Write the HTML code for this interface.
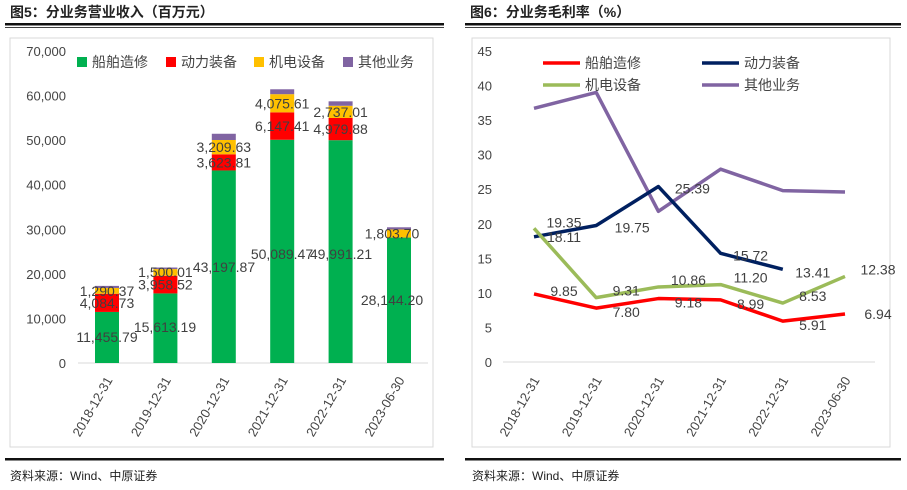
<!DOCTYPE html>
<html><head><meta charset="utf-8">
<style>
body{margin:0;background:#fff;width:907px;height:485px;overflow:hidden;font-family:"Liberation Sans","Noto Sans CJK SC",sans-serif;}
</style></head>
<body>
<svg id="svg" width="907" height="485" xmlns="http://www.w3.org/2000/svg" font-family="Liberation Sans, Noto Sans CJK SC, sans-serif">
<g>
<text x="10" y="17" font-size="14" font-weight="bold" fill="#222">图5：分业务营业收入（百万元）</text>
<rect x="5" y="23" width="439" height="2.5" fill="#111"/><rect x="5" y="27" width="439" height="0.8" fill="#111"/>
<text x="470" y="17" font-size="14" font-weight="bold" fill="#222">图6：分业务毛利率（%）</text>
<rect x="465" y="23" width="436" height="2.5" fill="#111"/><rect x="465" y="27" width="436" height="0.8" fill="#111"/>
</g>
<rect x="10" y="38" width="423" height="409" fill="#fff" stroke="#d9d9d9"/>
<rect x="472" y="38" width="418" height="409" fill="#fff" stroke="#d9d9d9"/>
<rect x="5" y="458" width="439" height="2.5" fill="#111"/>
<rect x="465" y="458" width="436" height="2.5" fill="#111"/>
<text x="10" y="480" font-size="12" fill="#222">资料来源：Wind、中原证券</text>
<text x="472" y="480" font-size="12" fill="#222">资料来源：Wind、中原证券</text>
<g id="left"></g><g id="right"></g>
</svg>
<script>
const categories=["2018-12-31","2019-12-31","2020-12-31","2021-12-31","2022-12-31","2023-06-30"];
const shipRev=[11455.79,15613.19,43197.87,50089.47,49991.21,28144.20];
const powerRev=[4084.73,3958.52,3623.81,6147.41,4979.88,0];
const mechRev=[1290.37,1500.01,3209.63,4075.61,2737.01,1803.70];
const otherRev=[470,350,1400,1100,1000,500];
const revTicks=[0,10000,20000,30000,40000,50000,60000,70000];
const shipMargin=[9.85,7.80,9.18,8.99,5.91,6.94];
const powerMargin=[18.11,19.75,25.39,15.72,13.41,null];
const mechMargin=[19.35,9.31,10.86,11.20,8.53,12.38];
const otherMargin=[36.7,39.0,21.8,27.9,24.8,24.6];
const marginTicks=[0,5,10,15,20,25,30,35,40,45];

const NS="http://www.w3.org/2000/svg";
function mk(p,tag,attrs,txt){const e=document.createElementNS(NS,tag);for(const k in attrs)e.setAttribute(k,attrs[k]);if(txt!==undefined)e.textContent=txt;p.appendChild(e);return e;}
const fmt=v=>v.toLocaleString('en-US',{minimumFractionDigits:2,maximumFractionDigits:2});

// LEFT
const L=document.getElementById('left');
const ly=v=>363-v*(312/70000);
const lx=i=>107+i*58.4;
revTicks.forEach(t=>{const e=mk(L,'text',{x:66,y:ly(t)+5,'text-anchor':'end','font-size':13,fill:'#444'},t.toLocaleString('en-US'));

});
mk(L,'line',{x1:78,x2:428,y1:363,y2:363,stroke:'#d9d9d9'});
const series=[[shipRev,'#00b050','ship'],[powerRev,'#ff0000','power'],[mechRev,'#ffc000','mech'],[otherRev,'#8064a2','other']];
categories.forEach((c,i)=>{let base=0;
series.forEach(([arr,col,nm])=>{const v=arr[i];if(!v)return;const r=mk(L,'rect',{x:lx(i)-12,y:ly(base+v),width:24,height:ly(base)-ly(base+v),fill:col});

base+=v;});
const t=mk(L,'text',{transform:`translate(${lx(i)+6},380) rotate(-60)`,'text-anchor':'end','font-size':13,fill:'#444'},c);

});
const lab=(x,y,s)=>{const e=mk(L,'text',{x:x,y:y,'text-anchor':'middle','font-size':14,fill:'#404040'},s);

};
const shipLabY=[342,332,272,259,259,305];
const shipLabX=[107,165,224,282,341,392];
categories.forEach((c,i)=>{lab(shipLabX[i],shipLabY[i],fmt(shipRev[i]));
const b=shipRev[i];
if(powerRev[i])lab(lx(i),ly(b+powerRev[i]/2)+5,fmt(powerRev[i]));
const b2=b+powerRev[i];
if(i<2)lab(lx(i),ly(b2+mechRev[i])+8,fmt(mechRev[i]));
else lab(lx(i)+(i===5?-7:0),ly(b2+mechRev[i]/2)+5,fmt(mechRev[i]));});
const lg=[['船舶造修','#00b050',77],['动力装备','#ff0000',166],['机电设备','#ffc000',254],['其他业务','#8064a2',343]];
lg.forEach(([n,c,x])=>{const g=mk(L,'g',{});


mk(g,'rect',{x:x,y:57,width:10,height:10,fill:c});mk(g,'text',{x:x+15,y:67,'font-size':14,fill:'#444'},n);});

// RIGHT
const R=document.getElementById('right');
const ry=v=>362-v*(311/45);
const rx=i=>534+i*62.2;
marginTicks.forEach(t=>{const e=mk(R,'text',{x:492,y:ry(t)+5,'text-anchor':'end','font-size':13,fill:'#444'},t);

});
mk(R,'line',{x1:503,x2:875,y1:362,y2:362,stroke:'#d9d9d9'});
categories.forEach((c,i)=>{const t=mk(R,'text',{transform:`translate(${rx(i)+6},380) rotate(-60)`,'text-anchor':'end','font-size':13,fill:'#444'},c);

});
const lines=[[otherMargin,'#8064a2','other'],[powerMargin,'#002060','power'],[mechMargin,'#9bbb59','mech'],[shipMargin,'#ff0000','ship']];
lines.forEach(([arr,col,nm])=>{let d='';arr.forEach((v,i)=>{if(v==null)return;d+=(d?'L':'M')+rx(i)+','+ry(v);});
const p=mk(R,'path',{d:d,fill:'none',stroke:col,'stroke-width':3.5,'stroke-linejoin':'round'});

});
const rlab=(x,y,s)=>{const e=mk(R,'text',{x:x,y:y,'text-anchor':'middle','font-size':14,fill:'#404040'},s);

};
[shipMargin,mechMargin,powerMargin].forEach((arr,k)=>arr.forEach((v,i)=>{if(v==null)return;
let x=rx(i)+30,y=ry(v)+5;
if(k===0&&i<5){y=ry(v)+ (i===0?2:9);} if(k===0&&i===5){x=rx(i)+33;}
if(k===1){y=ry(v)+(i===0?-1:-2);} if(k===1&&i===5)x=rx(i)+33;
if(k===2){y=ry(v)+(i===0?5:(i===4?8:7));} if(k===2&&i===2){x=rx(i)+34;y=ry(v)+7;}
if(k===2&&i===1){x=rx(i)+36;y=ry(v)+7;}
rlab(x,y,v.toFixed(2));}));
const rl=[['船舶造修','#ff0000',543,63],['动力装备','#002060',702,63],['机电设备','#9bbb59',543,85],['其他业务','#8064a2',702,85]];
rl.forEach(([n,c,x,y])=>{const g=mk(R,'g',{});


mk(g,'line',{x1:x,x2:x+37,y1:y,y2:y,stroke:c,'stroke-width':3.5});mk(g,'text',{x:x+42,y:y+5,'font-size':14,fill:'#444'},n);});
</script>
</body></html>
